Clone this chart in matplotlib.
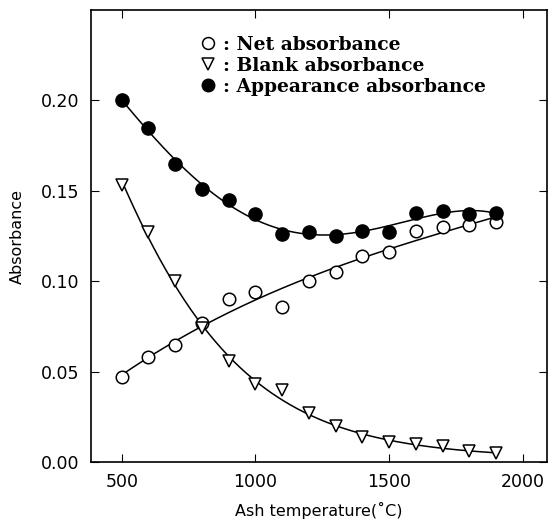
import numpy as np
import matplotlib
matplotlib.use('Agg')
import matplotlib.pyplot as plt

temp = [500, 600, 700, 800, 900, 1000, 1100, 1200, 1300, 1400, 1500, 1600, 1700, 1800, 1900]
net = [0.047, 0.058, 0.065, 0.077, 0.090, 0.094, 0.086, 0.100, 0.105, 0.114, 0.116, 0.128, 0.130, 0.131, 0.133]
blank = [0.153, 0.127, 0.100, 0.074, 0.056, 0.043, 0.040, 0.027, 0.020, 0.014, 0.011, 0.010, 0.009, 0.006, 0.005]
appear = [0.200, 0.185, 0.165, 0.151, 0.145, 0.137, 0.126, 0.127, 0.125, 0.128, 0.127, 0.138, 0.139, 0.137, 0.138]

plt.rcParams['font.family'] = ['DejaVu Sans']

fig = plt.figure(figsize=(5.48, 5.27), dpi=100)
ax = fig.add_axes([0.166, 0.123, 0.832, 0.858])

t = np.array(temp, dtype=float)
xs = np.linspace(500, 1900, 300)

# smooth fitted curves
p_net = np.polyfit(t, net, 3)
p_app = np.polyfit(t, appear, 4)
p_blk = np.polyfit(t, np.log(blank), 3)
ax.plot(xs, np.polyval(p_net, xs), color='black', lw=1.1)
ax.plot(xs, np.polyval(p_app, xs), color='black', lw=1.1)
ax.plot(xs, np.exp(np.polyval(p_blk, xs)), color='black', lw=1.1)

h1, = ax.plot(temp, net, 'o', mfc='white', mec='black', mew=1.1, ms=9, ls='none')
h2, = ax.plot(temp, blank, 'v', mfc='white', mec='black', mew=1.1, ms=9, ls='none')
h3, = ax.plot(temp, appear, 'o', mfc='black', mec='black', ms=9.5, ls='none')

leg = ax.legend([h1, h2, h3], [': Net absorbance', ': Blank absorbance', ': Appearance absorbance'],
                loc='upper left', bbox_to_anchor=(0.2, 0.98), frameon=False,
                handlelength=1.0, handletextpad=0.3, labelspacing=0.15, markerscale=0.95,
                prop={'family': 'DejaVu Serif', 'weight': 'bold', 'size': 13.5})

ax.set_xlim(385, 2090)
ax.set_ylim(0, 0.25)
ax.set_xticks([500, 1000, 1500, 2000])
ax.set_yticks([0.00, 0.05, 0.10, 0.15, 0.20])
ax.set_yticklabels(['0.00', '0.05', '0.10', '0.15', '0.20'])
ax.tick_params(direction='in', top=True, right=True, length=6, labelsize=12.5, pad=8)
for s in ax.spines.values():
    s.set_linewidth(1.2)

ax.set_xlabel('Ash temperature(\u02daC)', fontsize=11.5, labelpad=8)
ax.set_ylabel('Absorbance', fontsize=11.5, labelpad=12)

fig.savefig('out.png', dpi=100)
